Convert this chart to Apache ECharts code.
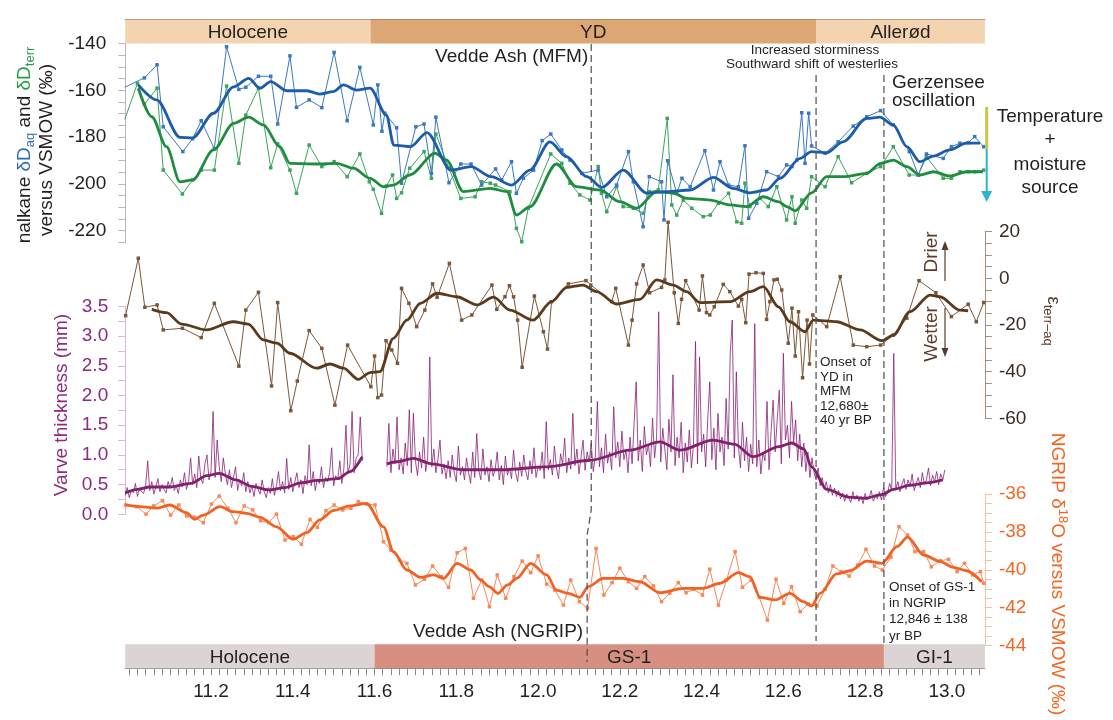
<!DOCTYPE html>
<html>
<head>
<meta charset="utf-8">
<script src="https://cdn.jsdelivr.net/npm/echarts@6/dist/echarts.min.js"></script>
<style>
  html, body { margin: 0; padding: 0; background: #fff; }
  #chart { width: 1113px; height: 720px; }
</style>
</head>
<body>
<div id="chart"></div>
<script>
// ---------- data (age in ka BP) ----------
const ageTicks   = [11.2, 11.4, 11.6, 11.8, 12.0, 12.2, 12.4, 12.6, 12.8, 13.0];
const dDTicks    = [-220, -200, -180, -160, -140];
const epsTicks   = [-60, -40, -20, 0, 20];
const varveTicks = [0, 0.5, 1, 1.5, 2, 2.5, 3, 3.5];
const ngripTicks = [-44, -42, -40, -38, -36];

const topStages    = [['Holocene', 10.99, 11.59], ['YD', 11.59, 12.68], ['Allerød', 12.68, 13.093]];
const bottomStages = [['Holocene', 10.99, 11.60], ['GS-1', 11.60, 12.846], ['GI-1', 12.846, 13.093]];

const veddeMFM = 12.13;       // Vedde Ash in Meerfelder Maar
const veddeNGRIP = 12.12;     // Vedde Ash in NGRIP
const ydOnsetMFM = 12.68;     // 12,680 ± 40 yr BP
const gs1OnsetNGRIP = 12.846; // 12,846 ± 138 yr BP

const dDaqRaw = [[10.989,-158.7],[11.037,-154.7],[11.068,-149.1],[11.083,-175.6],[11.131,-186.2],[11.155,-180.7],[11.176,-173.0],[11.208,-185.0],[11.238,-141.4],[11.268,-159.6],[11.285,-158.7],[11.316,-154.0],[11.346,-154.0],[11.363,-174.4],[11.393,-145.3],[11.409,-167.3],[11.440,-164.1],[11.471,-167.4],[11.501,-143.8],[11.533,-173.0],[11.564,-150.2],[11.597,-174.8],[11.608,-157.7],[11.618,-177.5],[11.625,-169.8],[11.654,-176.0],[11.666,-199.7],[11.701,-175.6],[11.721,-174.4],[11.739,-195.5],[11.750,-171.5],[11.782,-199.5],[11.811,-191.5],[11.836,-191.5],[11.862,-200.5],[11.896,-193.6],[11.911,-198.3],[11.935,-190.5],[11.947,-204.0],[11.964,-197.6],[11.989,-194.1],[12.010,-181.5],[12.031,-178.7],[12.058,-185.5],[12.078,-189.8],[12.107,-195.5],[12.147,-194.1],[12.168,-205.5],[12.192,-200.5],[12.221,-186.2],[12.233,-199.1],[12.257,-218.3],[12.272,-196.9],[12.302,-199.1],[12.308,-215.4],[12.317,-190.1],[12.339,-204.0],[12.352,-197.6],[12.372,-201.2],[12.408,-185.8],[12.429,-202.6],[12.445,-190.5],[12.466,-200.5],[12.490,-201.2],[12.506,-183.7],[12.515,-214.7],[12.535,-208.3],[12.559,-194.8],[12.588,-196.9],[12.608,-191.9],[12.621,-192.6],[12.633,-189.8],[12.645,-169.6],[12.653,-191.2],[12.662,-169.8],[12.669,-183.8],[12.702,-186.9],[12.734,-182.0],[12.771,-175.3],[12.804,-171.3],[12.838,-168.7],[12.869,-174.8],[12.908,-186.2],[12.930,-196.2],[12.950,-187.2],[12.991,-189.1],[13.011,-184.1],[13.032,-182.6],[13.052,-182.4],[13.068,-179.8],[13.090,-184.1]];

const dDaqSmooth = [[11.022,-157.7],[11.067,-164.1],[11.124,-180.1],[11.155,-180.3],[11.206,-169.8],[11.255,-158.5],[11.292,-154.9],[11.320,-159.1],[11.346,-156.3],[11.385,-160.2],[11.434,-160.2],[11.466,-161.6],[11.499,-160.6],[11.524,-157.7],[11.556,-159.9],[11.589,-159.1],[11.629,-170.6],[11.647,-183.4],[11.688,-184.1],[11.728,-178.1],[11.787,-194.1],[11.836,-192.6],[11.885,-196.9],[11.935,-200.5],[11.980,-194.1],[12.029,-182.0],[12.070,-188.4],[12.119,-196.9],[12.156,-201.5],[12.208,-194.1],[12.266,-204.0],[12.314,-203.3],[12.372,-202.6],[12.429,-197.2],[12.477,-201.9],[12.518,-203.8],[12.559,-202.6],[12.592,-197.6],[12.641,-189.1],[12.669,-186.2],[12.706,-186.7],[12.746,-182.0],[12.804,-172.0],[12.836,-171.5],[12.869,-174.8],[12.902,-184.1],[12.934,-190.5],[12.967,-188.1],[13.007,-185.5],[13.048,-182.6],[13.081,-182.6]];

const dDterrRaw = [[10.989,-172.4],[11.020,-157.0],[11.037,-165.9],[11.068,-159.1],[11.083,-194.1],[11.130,-204.3],[11.155,-198.3],[11.176,-194.1],[11.208,-194.1],[11.238,-158.2],[11.268,-191.2],[11.285,-170.6],[11.316,-159.1],[11.346,-193.1],[11.363,-182.9],[11.393,-194.1],[11.409,-204.0],[11.440,-183.4],[11.471,-192.6],[11.501,-190.5],[11.533,-196.9],[11.564,-187.2],[11.587,-199.1],[11.597,-202.3],[11.617,-212.6],[11.629,-200.9],[11.644,-196.2],[11.654,-206.2],[11.666,-203.8],[11.686,-193.3],[11.721,-186.2],[11.739,-197.6],[11.750,-178.7],[11.782,-193.3],[11.811,-206.2],[11.846,-205.5],[11.862,-199.1],[11.883,-199.7],[11.896,-200.5],[11.931,-203.3],[11.947,-219.0],[11.960,-224.7],[11.976,-210.4],[12.031,-187.2],[12.058,-191.2],[12.078,-199.7],[12.102,-204.7],[12.127,-206.9],[12.147,-192.6],[12.155,-204.0],[12.168,-211.9],[12.192,-201.2],[12.208,-209.7],[12.233,-210.4],[12.257,-212.6],[12.272,-203.3],[12.294,-202.6],[12.316,-172.0],[12.327,-209.0],[12.339,-213.3],[12.355,-206.9],[12.376,-210.4],[12.404,-214.0],[12.421,-213.3],[12.441,-208.3],[12.466,-204.0],[12.486,-216.2],[12.498,-216.8],[12.506,-199.7],[12.518,-209.7],[12.543,-206.2],[12.563,-209.7],[12.584,-201.2],[12.608,-215.4],[12.621,-205.5],[12.629,-216.8],[12.645,-206.9],[12.657,-210.4],[12.669,-196.9],[12.702,-201.2],[12.734,-188.4],[12.767,-199.5],[12.804,-195.5],[12.838,-192.6],[12.869,-184.1],[12.908,-196.2],[12.930,-196.2],[12.950,-188.4],[12.991,-197.6],[13.011,-197.6],[13.032,-194.8],[13.052,-194.8],[13.068,-194.8],[13.090,-194.1]];

const dDterrSmooth = [[11.022,-159.1],[11.055,-171.3],[11.091,-184.1],[11.124,-199.1],[11.155,-198.3],[11.206,-185.5],[11.255,-174.1],[11.292,-171.5],[11.328,-174.8],[11.368,-184.1],[11.393,-191.2],[11.458,-191.5],[11.507,-191.2],[11.548,-193.3],[11.589,-197.6],[11.622,-201.2],[11.646,-200.5],[11.686,-196.2],[11.748,-186.9],[11.776,-189.8],[11.817,-203.3],[11.883,-201.9],[11.924,-203.3],[11.947,-213.3],[11.980,-209.7],[12.045,-191.5],[12.094,-201.2],[12.151,-202.6],[12.200,-207.6],[12.241,-210.4],[12.290,-203.3],[12.331,-204.0],[12.363,-206.2],[12.421,-206.9],[12.470,-209.0],[12.510,-209.7],[12.551,-205.5],[12.588,-207.6],[12.608,-209.7],[12.629,-211.5],[12.669,-203.8],[12.706,-196.9],[12.746,-196.9],[12.804,-195.5],[12.838,-191.2],[12.869,-189.8],[12.902,-192.6],[12.934,-196.2],[12.967,-194.8],[13.007,-196.6],[13.048,-194.8],[13.088,-194.8]];

const epsRaw = [[10.991,-16.0],[11.022,8.6],[11.038,-12.4],[11.068,-11.4],[11.083,-22.1],[11.130,-21.4],[11.176,-25.4],[11.208,-10.7],[11.268,-37.6],[11.285,-13.6],[11.316,-6.0],[11.348,-46.1],[11.363,-10.4],[11.395,-56.7],[11.411,-44.0],[11.440,-22.4],[11.471,-30.0],[11.503,-54.3],[11.534,-28.6],[11.591,-46.4],[11.600,-33.3],[11.608,-51.1],[11.617,-50.0],[11.628,-26.7],[11.642,-30.7],[11.656,-36.4],[11.666,-4.3],[11.684,-10.7],[11.703,-20.7],[11.723,-13.6],[11.742,-2.4],[11.753,-8.1],[11.783,6.4],[11.813,-17.9],[11.838,-15.7],[11.887,-2.9],[11.899,-13.3],[11.919,-7.9],[11.930,-3.2],[11.940,-7.9],[11.950,-17.9],[11.961,-38.1],[11.991,-7.6],[12.013,-22.9],[12.023,-30.3],[12.033,-10.0],[12.074,-2.4],[12.117,-1.0],[12.129,-2.9],[12.180,-10.0],[12.190,-4.3],[12.221,-28.6],[12.230,-17.9],[12.241,-2.4],[12.257,5.7],[12.273,-6.2],[12.302,-3.9],[12.310,-0.7],[12.318,24.0],[12.333,-6.2],[12.343,-19.3],[12.351,-9.0],[12.361,-1.0],[12.394,-13.6],[12.402,1.0],[12.412,-14.7],[12.420,-15.7],[12.431,-12.2],[12.453,-2.6],[12.469,-5.7],[12.490,-11.9],[12.498,-9.0],[12.508,-19.0],[12.516,1.8],[12.533,2.4],[12.551,2.1],[12.559,-17.6],[12.567,-10.0],[12.577,-0.7],[12.585,-0.4],[12.596,-5.0],[12.612,-27.8],[12.621,-12.8],[12.629,-33.3],[12.637,-14.3],[12.647,-42.6],[12.658,-17.9],[12.664,-36.7],[12.672,-15.7],[12.706,-20.7],[12.739,0.7],[12.771,-28.6],[12.804,-29.3],[12.838,-28.6],[12.869,-24.3],[12.902,-17.1],[12.932,-1.0],[12.973,-6.2],[13.011,-16.4],[13.052,-11.1],[13.072,-18.6],[13.090,-10.4]];

const epsSmooth = [[11.055,-13.3],[11.091,-14.7],[11.128,-19.6],[11.189,-22.1],[11.254,-18.6],[11.291,-19.6],[11.328,-26.4],[11.361,-27.8],[11.393,-32.1],[11.458,-38.5],[11.491,-36.7],[11.524,-38.5],[11.560,-43.3],[11.589,-40.4],[11.613,-40.0],[11.646,-25.7],[11.679,-17.9],[11.712,-10.7],[11.753,-6.4],[11.801,-7.9],[11.851,-11.4],[11.891,-8.1],[11.931,-13.6],[11.988,-17.9],[12.033,-10.0],[12.070,-3.9],[12.110,-2.9],[12.143,-5.7],[12.192,-11.0],[12.249,-9.0],[12.290,-0.7],[12.331,-2.9],[12.363,-5.7],[12.396,-10.4],[12.470,-10.0],[12.518,-5.7],[12.551,-3.6],[12.588,-12.2],[12.616,-18.6],[12.653,-22.9],[12.673,-17.9],[12.730,-18.6],[12.788,-22.1],[12.841,-26.7],[12.869,-24.3],[12.910,-14.3],[12.959,-7.2],[12.983,-7.9],[13.032,-13.6],[13.052,-13.9]];

// annually laminated record, read at 5-year steps, in two core sections
const varveStep = 0.005;
const varveStartA = 10.990;
const varveA = [
  0.32,0.45,0.28,0.40,0.36,0.52,0.30,0.44,0.38,0.35,
  0.48,0.90,0.40,0.55,0.34,0.46,0.60,0.38,0.50,0.42,
  0.36,0.55,0.44,0.62,0.40,0.48,0.35,0.58,0.46,0.70,
  0.42,0.55,0.95,0.50,0.68,0.45,0.98,0.60,0.52,0.85,
  1.00,0.58,0.72,1.73,0.62,1.25,0.80,0.55,0.95,0.68,
  0.50,0.75,0.45,0.62,0.80,0.40,0.58,0.48,0.70,0.38,
  0.55,0.36,0.48,0.30,0.52,0.42,0.34,0.58,0.38,0.28,
  0.45,0.35,0.60,0.32,0.48,0.72,0.40,0.55,0.36,0.94,
  0.42,0.62,0.38,0.55,0.70,0.45,0.58,0.35,0.65,0.50,
  1.17,0.48,0.72,0.40,0.60,0.52,0.80,0.45,0.62,0.55,
  0.70,1.12,0.48,0.65,0.58,0.90,0.52,0.78,1.50,0.68,
  0.85,1.73,0.70,0.95,1.00,1.64,0.90];
const varveStartB = 11.630;
const varveB = [
  0.80,1.53,0.70,1.10,0.85,1.64,0.75,0.95,0.68,1.20,
  0.82,1.76,0.70,1.70,0.90,0.65,1.05,0.78,1.30,0.72,
  0.95,2.65,0.80,1.10,0.70,0.92,1.25,0.68,0.85,0.60,
  0.90,0.62,1.00,0.70,0.55,1.15,0.66,0.80,0.58,0.95,
  0.70,0.52,1.05,0.62,1.36,0.74,0.58,1.10,0.66,0.80,
  0.55,0.92,0.64,0.75,1.05,0.58,0.82,0.50,0.98,0.66,
  0.78,0.60,1.08,0.70,0.55,0.88,0.64,1.00,0.72,0.58,
  0.90,0.68,1.12,0.62,0.80,0.74,1.05,0.60,1.56,0.75,
  0.92,0.66,1.15,0.78,0.60,1.02,0.84,1.28,0.70,0.95,
  0.76,1.70,0.82,1.10,0.68,0.96,1.25,0.74,1.05,0.88,
  1.20,0.72,0.98,1.90,0.80,1.12,0.70,1.35,0.86,1.05,
  0.75,1.81,0.95,1.22,0.80,1.40,0.92,1.08,0.70,1.30,
  0.85,1.55,2.23,0.90,1.25,0.72,1.48,1.00,1.18,0.80,
  1.62,0.95,1.30,3.41,0.88,1.45,1.10,0.75,1.60,1.05,
  2.35,0.82,1.30,0.95,1.55,0.70,1.20,0.88,1.42,0.78,
  1.15,2.91,0.85,2.65,1.05,1.35,0.80,1.60,2.23,0.92,
  1.45,0.75,1.70,1.05,1.30,0.82,1.95,1.10,2.71,3.27,
  0.95,2.40,1.15,0.78,1.55,0.90,1.30,0.72,1.18,0.85,
  3.21,0.80,1.25,0.68,1.05,0.90,1.90,0.75,1.40,1.92,
  1.05,1.60,2.09,0.85,2.71,1.25,1.50,0.95,1.90,1.20,
  1.59,0.90,1.35,0.80,1.20,0.72,1.05,0.62,0.95,0.70,
  0.58,0.78,0.48,0.62,0.42,0.55,0.36,0.50,0.32,0.44,
  0.30,0.40,0.26,0.36,0.22,0.34,0.28,0.20,0.38,0.25,
  0.32,0.22,0.30,0.18,0.35,0.24,0.28,0.40,0.22,0.30,
  0.26,0.38,0.24,0.45,0.30,0.36,0.52,0.40,2.71,0.42,
  0.55,0.38,0.50,0.60,0.42,0.58,0.46,0.68,0.40,0.52,
  0.62,0.45,0.70,0.50,0.58,0.78,0.48,0.66,0.55,0.72,
  0.50,0.68,0.58,0.75];

const varveSmooth = [[10.99,0.36],[11.02,0.42],[11.05,0.46],[11.10,0.46],[11.15,0.52],[11.19,0.65],[11.22,0.69],[11.26,0.58],[11.30,0.47],[11.34,0.41],[11.38,0.45],[11.42,0.53],[11.46,0.57],[11.51,0.60],[11.54,0.72],[11.57,0.97],[11.60,null],[11.63,0.85],[11.654,0.885],[11.695,0.94],[11.74,0.85],[11.817,0.75],[11.914,0.75],[12.02,0.80],[12.127,0.91],[12.225,1.08],[12.298,1.22],[12.347,1.08],[12.428,1.25],[12.48,1.18],[12.526,0.97],[12.59,1.14],[12.62,1.20],[12.65,1.10],[12.669,0.80],[12.706,0.42],[12.76,0.29],[12.80,0.27],[12.84,0.33],[12.87,0.42],[12.91,0.49],[12.95,0.53],[12.99,0.58]];

const ngripRaw = [[10.991,-36.58],[11.018,-36.67],[11.041,-37.06],[11.060,-36.63],[11.081,-36.35],[11.101,-37.11],[11.121,-36.58],[11.140,-37.16],[11.160,-37.23],[11.181,-37.51],[11.201,-36.53],[11.220,-36.11],[11.241,-36.75],[11.261,-37.51],[11.281,-36.63],[11.302,-36.84],[11.321,-37.41],[11.341,-37.51],[11.360,-37.06],[11.381,-38.43],[11.401,-38.25],[11.421,-38.65],[11.442,-37.34],[11.460,-37.76],[11.481,-36.88],[11.501,-36.58],[11.522,-36.84],[11.542,-36.75],[11.560,-36.41],[11.580,-36.53],[11.601,-36.58],[11.622,-38.52],[11.640,-38.96],[11.661,-39.48],[11.679,-39.66],[11.700,-40.80],[11.722,-40.50],[11.742,-39.80],[11.763,-40.36],[11.781,-40.92],[11.802,-39.10],[11.822,-38.87],[11.842,-41.50],[11.862,-40.54],[11.881,-41.95],[11.900,-40.27],[11.921,-41.50],[11.941,-40.36],[11.961,-39.54],[11.982,-40.15],[12.000,-39.27],[12.021,-40.75],[12.041,-41.07],[12.062,-41.86],[12.080,-40.54],[12.101,-41.68],[12.121,-42.03],[12.142,-38.87],[12.161,-41.33],[12.181,-40.68],[12.200,-39.92],[12.221,-40.63],[12.241,-40.98],[12.261,-40.36],[12.282,-40.85],[12.302,-41.68],[12.322,-41.24],[12.343,-40.68],[12.362,-41.21],[12.381,-41.03],[12.402,-41.33],[12.420,-39.97],[12.441,-41.86],[12.461,-40.54],[12.482,-39.04],[12.500,-40.92],[12.521,-40.54],[12.541,-41.45],[12.561,-42.65],[12.582,-40.50],[12.601,-41.77],[12.620,-40.89],[12.641,-42.21],[12.661,-41.80],[12.682,-41.91],[12.702,-41.03],[12.721,-39.80],[12.741,-40.10],[12.761,-40.33],[12.782,-39.75],[12.802,-38.92],[12.823,-39.80],[12.842,-40.01],[12.863,-39.34],[12.883,-37.73],[12.904,-38.16],[12.922,-39.04],[12.943,-39.04],[12.962,-39.84],[12.984,-39.52],[13.004,-39.45],[13.025,-40.10],[13.043,-39.66],[13.063,-40.27],[13.082,-40.10],[13.090,-40.71]];

const ngripSmooth = [[10.991,-36.58],[11.026,-36.67],[11.067,-36.75],[11.099,-36.58],[11.140,-36.99],[11.160,-37.34],[11.181,-37.11],[11.222,-36.67],[11.254,-36.93],[11.287,-37.02],[11.320,-37.23],[11.360,-37.73],[11.401,-38.39],[11.434,-38.04],[11.466,-37.37],[11.499,-36.88],[11.540,-36.63],[11.580,-36.49],[11.622,-37.73],[11.646,-39.04],[11.679,-40.01],[11.712,-40.40],[11.745,-40.27],[11.769,-40.45],[11.802,-39.66],[11.835,-40.01],[11.860,-40.54],[11.880,-40.89],[11.902,-41.24],[11.925,-40.80],[11.948,-40.45],[11.982,-39.66],[12.021,-40.27],[12.045,-41.07],[12.074,-41.24],[12.102,-41.45],[12.123,-40.89],[12.159,-40.45],[12.208,-40.45],[12.249,-40.63],[12.298,-41.21],[12.355,-40.98],[12.404,-40.98],[12.445,-40.71],[12.490,-40.15],[12.518,-40.36],[12.543,-41.45],[12.580,-41.59],[12.616,-41.24],[12.649,-41.68],[12.669,-41.91],[12.690,-41.24],[12.730,-40.22],[12.763,-40.05],[12.804,-39.54],[12.841,-39.66],[12.878,-38.78],[12.904,-38.28],[12.943,-39.22],[12.984,-39.57],[13.016,-39.87],[13.048,-40.05],[13.085,-40.63]];

// ---------- drawing ----------
const FONT = 'Liberation Sans, Arial, Helvetica, sans-serif';
const AGE_MIN = 10.99, AGE_MAX = 13.093;
const PLOT_LEFT = 125.2, PLOT_WIDTH = 859.7;

function steps(a, b, s) {
  const out = [];
  for (let v = a; v <= b + s / 1000; v += s) out.push(Math.round(v * 1000) / 1000);
  return out;
}

const varveRaw = varveA.map((v, i) => [varveStartA + i * varveStep, v])
  .concat([[11.60, null]])
  .concat(varveB.map((v, i) => [varveStartB + i * varveStep, v]));

const stageColors = {
  top: { 'Holocene': '#F4D4B0', 'YD': '#DCA775', 'Allerød': '#F4D4B0' },
  bottom: { 'Holocene': '#DCD3D3', 'GS-1': '#D68F81', 'GI-1': '#DCD3D3' }
};

const panels = [
  { top: 43.5, height: 198.9 },   // δD
  { top: 231.6, height: 186.8 },  // ε
  { top: 306.4, height: 207.9 },  // varve
  { top: 494, height: 151.6 },    // NGRIP
  { top: 644.3, height: 24 },     // bottom stages + age axis
  { top: 19.5, height: 24 }       // top stages
];

const grid = panels.map(p => ({ left: PLOT_LEFT, width: PLOT_WIDTH, top: p.top, height: p.height }));

const xAxis = panels.map((p, i) => {
  const ax = { type: 'value', gridIndex: i, min: AGE_MIN, max: AGE_MAX, splitLine: { show: false } };
  if (i === 4) {
    Object.assign(ax, {
      position: 'bottom',
      axisLine: { show: true, onZero: false, lineStyle: { color: '#8a8a8a', width: 1 } },
      axisTick: { show: true, length: 7, customValues: steps(11.0, 13.08, 0.02), lineStyle: { color: '#8a8a8a' } },
      axisLabel: { customValues: ageTicks, formatter: v => v.toFixed(1), fontSize: 19, fontFamily: FONT, color: '#231f20', margin: 14 }
    });
  } else if (i === 5) {
    Object.assign(ax, {
      position: 'top',
      axisLine: { show: true, onZero: false, lineStyle: { color: '#7d6b5d', width: 1 } },
      axisTick: { show: false }, axisLabel: { show: false }
    });
  } else {
    ax.show = false;
  }
  return ax;
});

function yAx(gi, pos, min, max, tickStep, labels, lineColor, labelColor, margin, fmt) {
  return {
    type: 'value', gridIndex: gi, position: pos, min: min, max: max,
    splitLine: { show: false },
    axisLine: { show: true, onZero: false, lineStyle: { color: lineColor, width: 1 } },
    axisTick: { show: true, length: 7, customValues: steps(min, max, tickStep), lineStyle: { color: lineColor } },
    axisLabel: { customValues: labels, fontSize: 19, fontFamily: FONT, color: labelColor, margin: margin,
                 formatter: fmt || (v => String(v)) }
  };
}

const yAxis = [
  yAx(0, 'left', -225, -140, 5, dDTicks, '#b8b8b8', '#231f20', 19),
  yAx(1, 'right', -60, 20, 5, epsTicks, '#a88d7c', '#3b2a22', 14),
  yAx(2, 'left', 0, 3.5, 0.25, varveTicks, '#dbb5d5', '#8e2b7f', 17, v => v.toFixed(1)),
  yAx(3, 'right', -44, -36, 0.5, ngripTicks, '#f9bfa3', '#f26522', 14),
  { type: 'value', gridIndex: 4, min: 0, max: 1, show: false },
  { type: 'value', gridIndex: 5, min: 0, max: 1, show: false }
];

function rawSeries(data, idx, color, extra) {
  return Object.assign({
    type: 'line', xAxisIndex: idx, yAxisIndex: idx, data: data,
    symbol: 'rect', symbolSize: 3.5, showSymbol: true,
    lineStyle: { color: color, width: 1 }, itemStyle: { color: color },
    animation: false, silent: true, z: 3
  }, extra || {});
}
function smoothSeries(data, idx, color, extra) {
  return Object.assign({
    type: 'line', xAxisIndex: idx, yAxisIndex: idx, data: data, smooth: 0.3, smoothMonotone: 'x',
    showSymbol: false, symbol: 'none', lineStyle: { color: color, width: 2.8 },
    animation: false, silent: true, z: 4
  }, extra || {});
}

function stageSeries(stages, idx, colors) {
  return {
    type: 'custom', xAxisIndex: idx, yAxisIndex: idx, silent: true, animation: false,
    data: stages.map(s => [s[1], s[2]]),
    renderItem: (params, api) => {
      const st = stages[params.dataIndex];
      const a = api.coord([api.value(0), 1]);
      const b = api.coord([api.value(1), 0]);
      return {
        type: 'group',
        children: [
          { type: 'rect', shape: { x: a[0], y: a[1], width: b[0] - a[0], height: b[1] - a[1] },
            style: { fill: colors[st[0]] } },
          { type: 'text', x: (a[0] + b[0]) / 2, y: (a[1] + b[1]) / 2 + 1,
            style: { text: st[0], align: 'center', verticalAlign: 'middle', textAlign: 'center', textVerticalAlign: 'middle',
                     fontSize: 19, fontFamily: FONT, fill: '#231f20' } }
        ]
      };
    }
  };
}

const series = [
  stageSeries(topStages, 5, stageColors.top),
  stageSeries(bottomStages, 4, stageColors.bottom),
  rawSeries(dDterrRaw, 0, '#3ea45b'),
  rawSeries(dDaqRaw, 0, '#3b78c3'),
  smoothSeries(dDterrSmooth, 0, '#1f8c3f'),
  smoothSeries(dDaqSmooth, 0, '#1c5caa'),
  rawSeries(epsRaw, 1, '#7b5739', { clip: false }),
  smoothSeries(epsSmooth, 1, '#5b3a1c'),
  { type: 'line', xAxisIndex: 2, yAxisIndex: 2, data: varveRaw, showSymbol: false, symbol: 'none',
    connectNulls: false, lineStyle: { color: 'rgba(138,32,118,0.8)', width: 1 }, animation: false, silent: true, z: 3 },
  smoothSeries(varveSmooth, 2, '#82206c', { connectNulls: false }),
  rawSeries(ngripRaw, 3, '#f7885a'),
  smoothSeries(ngripSmooth, 3, '#f26122')
];

const chart = echarts.init(document.getElementById('chart'), null, { renderer: 'canvas' });
chart.setOption({ animation: false, backgroundColor: '#ffffff', grid: grid, xAxis: xAxis, yAxis: yAxis, series: series });

// ---------- annotations ----------
const px = v => chart.convertToPixel({ xAxisIndex: 0 }, v);

function text(x, y, str, o) {
  o = o || {};
  const align = o.align || 'left';
  const valign = o.valign || 'middle';
  return {
    type: 'text', x: x, y: y, rotation: o.rotation || 0, z: 20, silent: true,
    style: Object.assign({
      text: str, align: align, verticalAlign: valign, textAlign: align, textVerticalAlign: valign,
      fontSize: o.size || 19, fontFamily: FONT, fill: o.color || '#231f20', lineHeight: o.lineHeight
    }, o.rich ? { rich: o.rich } : {})
  };
}
function dashed(points) {
  return { type: 'polyline', z: 15, silent: true, shape: { points: points },
           style: { stroke: '#4d4d4d', lineWidth: 1.2, lineDash: [7, 4], fill: null } };
}
function vline(x, y1, y2, color, w) {
  return { type: 'line', z: 15, silent: true, shape: { x1: x, y1: y1, x2: x, y2: y2 }, style: { stroke: color, lineWidth: w } };
}
function head(x, tipY, dir, color, hw, hl) {
  const b = tipY - dir * hl;
  return { type: 'polygon', z: 15, silent: true, shape: { points: [[x, tipY], [x - hw, b], [x + hw, b]] }, style: { fill: color } };
}

const xVm = px(veddeMFM), xVn = px(veddeNGRIP), xYD = px(ydOnsetMFM), xGS = px(gs1OnsetNGRIP);
const BROWN = '#5a3a28';
const sub = (c) => ({ fontSize: 13, fill: c, color: c, lineHeight: 12, verticalAlign: 'bottom', fontFamily: FONT });
const main = (c) => ({ fontSize: 19, fill: c, color: c, lineHeight: 24, fontFamily: FONT });

const elements = [
  dashed([[xVm, 44], [xVm, 510], [xVn, 535], [xVn, 662]]),
  dashed([[xYD, 75], [xYD, 641]]),
  dashed([[xGS, 75], [xGS, 645]]),

  text(xVm - 3, 57, 'Vedde Ash (MFM)', { align: 'right' }),
  text(xVn - 4, 632, 'Vedde Ash (NGRIP)', { align: 'right' }),
  text(815, 50, 'Increased storminess', { align: 'center', size: 13.5 }),
  text(812, 64.5, 'Southward shift of westerlies', { align: 'center', size: 13.5 }),
  text(892, 83, 'Gerzensee', {}),
  text(892, 101, 'oscillation', {}),
  text(1050, 117, 'Temperature', { align: 'center' }),
  text(1050, 140, '+', { align: 'center' }),
  text(1050, 165, 'moisture', { align: 'center' }),
  text(1050, 188, 'source', { align: 'center' }),
  text(xYD + 4, 355, 'Onset of\nYD in\nMFM\n12,680±\n40 yr BP', { valign: 'top', size: 13.5, lineHeight: 14.6 }),
  text(xGS + 5, 579, 'Onset of GS-1\nin NGRIP\n12,846 ± 138\nyr BP', { valign: 'top', size: 13.5, lineHeight: 16.3 }),

  // moisture-source arrow
  vline(986.7, 107, 149, '#c9c748', 3),
  vline(986.7, 149, 194, '#2db4c7', 2),
  head(986.7, 202, 1, '#2db4c7', 5.5, 11),

  // drier / wetter
  text(931.5, 252, 'Drier', { rotation: Math.PI / 2, align: 'center', color: BROWN }),
  vline(945, 281, 248, BROWN, 1.2),
  head(945, 241, -1, BROWN, 3.5, 9),
  text(931.5, 334, 'Wetter', { rotation: Math.PI / 2, align: 'center', color: BROWN }),
  vline(945, 308, 350, BROWN, 1.2),
  head(945, 357, 1, BROWN, 3.5, 9),

  // axis titles
  text(25, 145, '{k|nalkane }{b|δD}{bs|aq}{k| and }{g|δD}{gs|terr}', {
    rotation: Math.PI / 2, align: 'center',
    rich: { k: main('#231f20'), b: main('#2e6db5'), bs: sub('#2e6db5'), g: main('#2a9a4a'), gs: sub('#2a9a4a') }
  }),
  text(47, 150, 'versus VSMOW (‰)', { rotation: Math.PI / 2, align: 'center' }),
  text(61.5, 405, 'Varve thickness (mm)', { rotation: Math.PI / 2, align: 'center', color: '#8e2b7f' }),
  text(1053, 321, '{e|ε}{s|terr–aq}', {
    rotation: -Math.PI / 2, align: 'center',
    rich: { e: main(BROWN), s: sub(BROWN) }
  }),
  text(1057, 574, '{m|NGRIP δ}{p|18}{m|O versus VSMOW (‰)}', {
    rotation: -Math.PI / 2, align: 'center',
    rich: { m: main('#f26522'), p: { fontSize: 13, fill: '#f26522', color: '#f26522', lineHeight: 14, verticalAlign: 'top', fontFamily: FONT } }
  })
];

chart.setOption({ graphic: { elements: elements } });
</script>
</body>
</html>
